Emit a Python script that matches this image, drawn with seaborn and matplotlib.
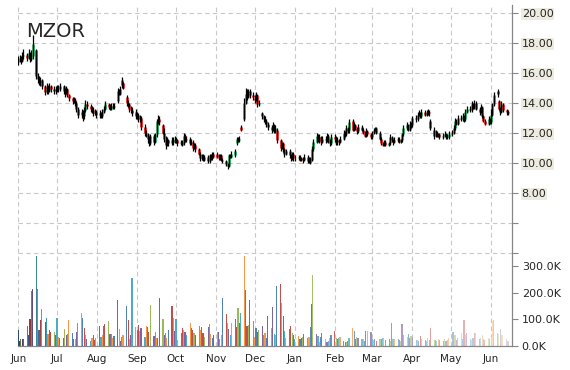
import matplotlib
matplotlib.use("Agg")
import matplotlib.pyplot as plt
import matplotlib.ticker as mticker
import matplotlib.colors as mcolors
import numpy as np
import pandas as pd
import seaborn as sns

# daily OHLC (trading days from 2015-06-01), one row per month
opens = [
    16.7, 16.9, 17.0, 16.8, 17.1, 17.2, 17.0, 17.3, 16.9, 17.1, 17.5, 15.8, 15.6, 15.3, 15.5, 15.1, 14.7, 15.0, 14.8, 15.1, 14.9, 14.8,
    14.9, 15.0, 14.9, 15.1, 14.8, 14.7, 14.9, 14.5, 14.3, 14.1, 14.2, 14.0, 13.6, 13.2, 13.4, 13.1, 13.5, 13.9, 13.8, 13.6, 13.5, 13.3, 13.4,
    13.2, 13.3, 13.1, 13.4, 13.6, 13.9, 13.7, 13.6, 13.8, 13.7, 14.1, 14.8, 14.6, 15.5, 15.3, 14.4, 14.0, 13.9, 13.6, 13.5, 13.4,
    13.1, 13.2, 12.9, 13.0, 12.4, 12.0, 11.9, 11.6, 11.3, 11.8, 11.4, 11.9, 12.8, 12.9, 12.5, 12.0, 11.6, 11.2, 11.5, 11.3, 11.5, 11.4,
    11.6, 11.5, 11.3, 11.4, 11.3, 11.8, 11.5, 11.6, 11.3, 11.4, 11.0, 11.2, 10.9, 10.6, 10.3, 10.5, 10.2, 10.4, 10.1, 10.5, 10.3, 10.6,
    10.6, 10.4, 10.3, 10.5, 10.2, 10.1, 9.9, 9.8, 10.5, 10.4, 10.5, 11.3, 11.6, 11.5, 12.4, 12.9, 14.0, 14.6, 14.4, 14.8, 14.5,
    14.3, 14.2, 14.5, 13.9, 13.3, 13.1, 12.9, 12.8, 12.6, 12.4, 12.2, 12.5, 12.1, 12.2, 11.5, 11.0, 11.3, 10.9, 10.6, 10.8, 10.5, 10.3, 10.6,
    10.3, 10.3, 10.4, 10.2, 10.3, 10.2, 10.4, 10.1, 10.3, 10.2, 10.9, 11.4, 11.8, 11.5, 11.7, 11.4, 11.6, 11.5, 11.8, 11.5, 11.3,
    11.7, 11.6, 11.4, 11.5, 11.4, 11.6, 12.0, 11.9, 12.3, 12.2, 12.8, 12.2, 12.5, 12.3, 12.1, 12.4, 12.2, 12.0, 11.8, 12.1, 11.9,
    11.7, 12.0, 12.2, 12.3, 12.0, 11.6, 11.3, 11.2, 11.4, 11.2, 11.3, 11.7, 11.5, 11.4, 11.5, 11.6, 11.4, 11.5, 11.9, 12.3, 12.5, 12.2, 12.6,
    12.5, 13.0, 12.9, 13.2, 13.3, 13.1, 13.4, 13.2, 13.3, 13.4, 12.8, 12.2, 11.8, 12.0, 11.8, 11.9, 11.7, 11.8, 11.9, 11.8, 11.7,
    11.9, 12.0, 12.3, 12.8, 12.6, 13.0, 12.9, 13.1, 12.9, 13.4, 13.6, 13.5, 13.9, 13.7, 14.0, 13.6, 13.4, 13.7, 13.1, 12.8, 12.6, 12.9,
    12.7, 13.2, 13.9, 14.8, 14.1, 13.6, 13.4, 13.9, 13.5, 13.4,
]
highs = [
    17.1, 17.2, 17.1, 17.4, 17.6, 17.3, 17.6, 17.4, 17.5, 18.5, 17.6, 16.0, 15.8, 15.7, 15.6, 15.2, 15.3, 15.2, 15.3, 15.2, 15.1, 15.1,
    15.2, 15.2, 15.3, 15.2, 15.0, 15.1, 15.0, 14.6, 14.4, 14.4, 14.3, 14.1, 13.7, 13.6, 13.5, 13.7, 14.2, 14.1, 13.9, 13.8, 13.7, 13.6, 13.5,
    13.5, 13.4, 13.6, 13.8, 14.1, 14.0, 13.9, 14.0, 14.0, 14.0, 15.0, 14.9, 15.1, 15.7, 15.4, 14.5, 14.2, 14.0, 13.8, 13.7, 13.6,
    13.4, 13.3, 13.2, 13.1, 12.6, 12.2, 12.0, 11.8, 11.9, 11.9, 12.0, 12.9, 13.2, 13.1, 12.6, 12.3, 11.8, 11.7, 11.6, 11.7, 11.7, 11.8,
    11.7, 11.6, 11.5, 11.5, 12.0, 11.9, 11.8, 11.7, 11.6, 11.5, 11.3, 11.3, 11.0, 10.7, 10.6, 10.6, 10.5, 10.5, 10.6, 10.6, 10.7, 10.7,
    10.7, 10.6, 10.6, 10.6, 10.3, 10.2, 10.0, 10.6, 10.6, 10.8, 10.9, 11.7, 11.7, 11.8, 12.5, 14.3, 15.0, 14.9, 14.9, 14.9, 14.7,
    14.5, 14.7, 14.6, 14.2, 13.4, 13.2, 13.1, 12.9, 12.7, 12.5, 12.7, 12.6, 12.5, 12.3, 11.6, 11.4, 11.4, 11.0, 10.9, 10.9, 10.6, 10.7, 10.7,
    10.5, 10.5, 10.5, 10.4, 10.4, 10.6, 10.5, 10.4, 10.4, 11.1, 11.6, 12.0, 11.9, 11.9, 11.8, 11.8, 11.8, 12.0, 11.9, 11.6, 11.9,
    11.9, 11.8, 11.7, 11.6, 11.8, 12.2, 12.1, 12.5, 12.4, 12.9, 12.9, 12.7, 12.6, 12.4, 12.6, 12.5, 12.3, 12.1, 12.3, 12.2, 12.0,
    12.1, 12.3, 12.4, 12.4, 12.1, 11.7, 11.4, 11.5, 11.5, 11.4, 11.9, 11.8, 11.6, 11.7, 11.7, 11.7, 11.6, 12.0, 12.5, 12.7, 12.6, 12.8, 12.7,
    13.1, 13.2, 13.4, 13.5, 13.4, 13.6, 13.5, 13.5, 13.6, 13.5, 12.9, 12.4, 12.2, 12.1, 12.0, 12.0, 12.0, 12.1, 12.0, 11.9, 12.1,
    12.2, 12.5, 13.0, 12.9, 13.2, 13.2, 13.3, 13.2, 13.6, 13.8, 13.8, 14.1, 14.0, 14.2, 14.1, 13.7, 13.9, 13.8, 13.2, 12.9, 13.1, 13.0,
    13.6, 14.0, 14.7, 14.9, 14.2, 13.7, 14.1, 14.0, 13.6, 13.5,
]
lows = [
    16.5, 16.7, 16.6, 16.7, 16.9, 16.8, 16.9, 16.7, 16.8, 16.9, 15.6, 15.3, 15.2, 15.1, 14.9, 14.5, 14.6, 14.6, 14.7, 14.7, 14.6, 14.6,
    14.7, 14.7, 14.8, 14.6, 14.4, 14.6, 14.4, 14.1, 13.9, 14.0, 13.8, 13.4, 13.0, 13.0, 12.8, 12.9, 13.4, 13.6, 13.4, 13.3, 13.1, 13.2, 13.0,
    13.0, 13.0, 13.0, 13.3, 13.5, 13.6, 13.5, 13.5, 13.6, 13.6, 14.0, 14.5, 14.5, 15.0, 14.9, 13.8, 13.7, 13.4, 13.3, 13.1, 12.9,
    12.9, 12.7, 12.7, 12.2, 11.8, 11.7, 11.3, 11.1, 11.2, 11.2, 11.3, 11.7, 12.6, 12.5, 11.9, 11.4, 10.9, 11.1, 11.1, 11.2, 11.2, 11.3,
    11.3, 11.1, 11.2, 11.1, 11.2, 11.4, 11.4, 11.2, 11.2, 10.8, 10.9, 10.7, 10.5, 10.1, 10.2, 10.1, 10.1, 10.0, 10.0, 10.2, 10.2, 10.3,
    10.3, 10.2, 10.2, 10.1, 10.0, 9.8, 9.6, 9.7, 10.3, 10.3, 10.4, 11.2, 11.4, 11.4, 12.1, 12.8, 13.9, 14.2, 14.3, 14.3, 14.2,
    14.0, 14.1, 13.7, 13.8, 12.9, 12.7, 12.6, 12.4, 12.2, 12.0, 12.1, 12.0, 12.0, 11.3, 10.8, 10.9, 10.7, 10.4, 10.5, 10.3, 10.1, 10.2, 10.1,
    10.1, 10.2, 10.1, 10.1, 10.0, 10.1, 10.0, 10.0, 9.9, 10.1, 10.8, 11.3, 11.4, 11.3, 11.2, 11.3, 11.3, 11.4, 11.3, 11.1, 11.2,
    11.4, 11.2, 11.2, 11.2, 11.3, 11.5, 11.7, 11.8, 12.0, 12.0, 12.1, 12.1, 12.2, 11.9, 12.0, 12.1, 11.9, 11.7, 11.7, 11.8, 11.6,
    11.6, 11.9, 12.1, 11.9, 11.5, 11.2, 11.1, 11.1, 11.1, 11.1, 11.2, 11.4, 11.2, 11.3, 11.4, 11.3, 11.3, 11.4, 11.8, 12.2, 12.1, 12.1, 12.3,
    12.4, 12.7, 12.8, 13.1, 13.0, 13.0, 13.1, 13.1, 13.2, 13.1, 12.2, 11.6, 11.7, 11.7, 11.7, 11.6, 11.6, 11.7, 11.6, 11.6, 11.6,
    11.8, 11.9, 12.2, 12.5, 12.5, 12.8, 12.8, 12.7, 12.8, 13.3, 13.4, 13.4, 13.6, 13.6, 13.5, 13.2, 13.3, 13.0, 12.7, 12.5, 12.5, 12.6,
    12.6, 13.1, 13.8, 14.4, 13.5, 13.2, 13.3, 13.4, 13.2, 13.2,
]
closes = [
    16.9, 17.0, 16.8, 17.1, 17.2, 17.0, 17.3, 16.9, 17.2, 17.9, 15.8, 15.6, 15.4, 15.5, 15.1, 14.7, 15.0, 14.8, 15.1, 14.9, 14.8, 14.9,
    15.0, 14.9, 15.1, 14.8, 14.7, 14.9, 14.5, 14.3, 14.1, 14.2, 14.0, 13.6, 13.2, 13.4, 13.0, 13.5, 13.9, 13.8, 13.6, 13.5, 13.3, 13.4, 13.2,
    13.3, 13.1, 13.4, 13.6, 13.9, 13.7, 13.6, 13.8, 13.7, 13.8, 14.8, 14.6, 14.9, 15.2, 15.0, 14.0, 13.9, 13.6, 13.5, 13.3, 13.1,
    13.2, 12.9, 13.0, 12.4, 12.0, 11.9, 11.6, 11.3, 11.8, 11.4, 11.9, 12.8, 12.9, 12.7, 12.0, 11.6, 11.2, 11.5, 11.3, 11.5, 11.4, 11.6,
    11.5, 11.3, 11.4, 11.2, 11.8, 11.5, 11.6, 11.3, 11.4, 11.0, 11.2, 10.9, 10.6, 10.3, 10.5, 10.2, 10.4, 10.1, 10.5, 10.3, 10.6, 10.4,
    10.4, 10.3, 10.5, 10.2, 10.1, 9.9, 9.8, 10.5, 10.4, 10.6, 10.8, 11.6, 11.5, 11.6, 12.2, 14.0, 14.6, 14.4, 14.8, 14.5, 14.4,
    14.2, 14.5, 13.9, 14.0, 13.1, 12.9, 12.8, 12.6, 12.4, 12.2, 12.5, 12.1, 12.3, 11.5, 11.0, 11.3, 10.9, 10.6, 10.8, 10.5, 10.3, 10.6, 10.3,
    10.3, 10.4, 10.2, 10.3, 10.2, 10.4, 10.1, 10.3, 10.0, 10.9, 11.4, 11.8, 11.5, 11.7, 11.4, 11.6, 11.5, 11.8, 11.5, 11.3, 11.7,
    11.6, 11.4, 11.5, 11.4, 11.6, 12.0, 11.9, 12.3, 12.1, 12.7, 12.2, 12.5, 12.3, 12.1, 12.4, 12.2, 12.0, 11.8, 12.1, 11.9, 11.7,
    12.0, 12.2, 12.3, 12.0, 11.6, 11.3, 11.2, 11.4, 11.2, 11.3, 11.7, 11.5, 11.4, 11.5, 11.6, 11.4, 11.5, 11.9, 12.3, 12.5, 12.2, 12.6, 12.4,
    13.0, 12.9, 13.2, 13.3, 13.1, 13.4, 13.2, 13.3, 13.4, 13.3, 12.3, 11.8, 12.0, 11.8, 11.9, 11.7, 11.8, 11.9, 11.8, 11.7, 11.9,
    12.0, 12.3, 12.8, 12.6, 13.0, 12.9, 13.1, 12.8, 13.4, 13.6, 13.5, 13.9, 13.7, 14.0, 13.6, 13.4, 13.7, 13.1, 12.8, 12.6, 12.9, 12.7,
    13.2, 13.9, 14.5, 14.6, 13.6, 13.4, 13.9, 13.5, 13.4, 13.3,
]
# volume in thousands of shares
volume_k = [
    60, 20, 28, 28, 25, 75, 40, 100, 205, 215, 338, 212, 60, 98, 139, 91, 104, 45, 60, 54, 54, 40,
    104, 35, 30, 30, 62, 40, 45, 98, 47, 25, 25, 54, 85, 123, 104, 66, 40, 25, 20, 30, 40, 22, 30,
    75, 35, 40, 76, 82, 94, 45, 45, 30, 38, 172, 62, 20, 35, 40, 150, 98, 28, 40, 256, 70,
    60, 79, 57, 66, 35, 75, 70, 54, 154, 38, 54, 30, 30, 179, 100, 42, 47, 30, 60, 151, 104, 57,
    100, 22, 47, 66, 60, 54, 42, 85, 66, 60, 47, 40, 75, 60, 70, 47, 35, 70, 82, 45, 30, 40,
    54, 54, 26, 40, 179, 120, 88, 62, 40, 85, 100, 72, 142, 85, 125, 338, 210, 75, 79, 172, 95,
    35, 66, 54, 60, 75, 40, 47, 30, 113, 66, 148, 45, 40, 225, 231, 162, 113, 57, 30, 62, 75, 47, 42,
    25, 38, 25, 30, 32, 45, 30, 35, 70, 157, 266, 44, 38, 15, 35, 47, 25, 15, 20, 30, 42,
    57, 30, 25, 30, 35, 20, 15, 15, 20, 30, 66, 57, 25, 32, 30, 25, 25, 20, 57, 57, 54,
    25, 22, 25, 20, 25, 28, 30, 30, 22, 25, 20, 85, 28, 28, 25, 22, 20, 82, 40, 35, 45, 30, 38,
    35, 22, 22, 20, 38, 25, 22, 20, 30, 22, 66, 22, 22, 20, 25, 22, 18, 25, 20, 22, 30,
    54, 54, 40, 22, 30, 47, 25, 98, 40, 47, 25, 22, 30, 50, 50, 25, 30, 40, 25, 22, 30, 25,
    35, 92, 98, 50, 45, 62, 40, 42, 25, 20,
]
month_labels = ["Jun", "Jul", "Aug", "Sep", "Oct", "Nov", "Dec", "Jan", "Feb", "Mar", "Apr", "May", "Jun"]
price_ticks = [4, 6, 8, 10, 12, 14, 16, 18, 20]
volume_ticks = [0, 100, 200, 300]
ticker = "MZOR"

dates = pd.bdate_range("2015-06-01", periods=len(closes))
df = pd.DataFrame({"date": dates, "open": opens, "high": highs, "low": lows,
                   "close": closes, "volume": np.array(volume_k) * 1000})
month_starts = pd.date_range("2015-06-01", periods=len(month_labels), freq="MS")

sns.set_style("white")
plt.rcParams["font.family"] = ["DejaVu Sans"]

fig = plt.figure(figsize=(5.7, 3.7), dpi=100)
axv = fig.add_axes([18 / 570, 24 / 370, 494 / 570, 341 / 370])
axp = axv.twinx()

grid_kw = dict(linestyle=(0, (4, 3)), color="#C8C8C8", linewidth=0.8)

# volume bars: office palette, darker at start, fading out in 2016
accents = ["#4F81BD", "#C0504D", "#9BBB59", "#8064A2", "#4BACC6", "#F79646"]
n = len(df)
shade = np.interp(np.arange(n), [0, 22, 150, n - 1], [-0.4, 0, 0, 0.7])
bar_cols = []
for i in range(n):
    c = np.array(mcolors.to_rgb(accents[i % len(accents)]))
    s = shade[i]
    c = c * (1 + s) if s < 0 else c + (1 - c) * s
    bar_cols.append(c)
axv.bar(df["date"], df["volume"], width=0.9, color=bar_cols, linewidth=0, zorder=2)
axv.set_ylim(0, 1.279e6)
axv.yaxis.tick_right()
axv.set_yticks([v * 1000 for v in volume_ticks])
axv.yaxis.set_major_formatter(mticker.FuncFormatter(lambda v, p: f"{v / 1000:.1f}K"))

x0 = pd.Timestamp("2015-06-01") - pd.Timedelta(hours=6)
axv.set_xlim(x0, x0 + pd.Timedelta(days=382.4))
axv.set_xticks(month_starts)
axv.set_xticklabels(month_labels)
axv.grid(True, axis="x", **grid_kw)
axv.set_axisbelow(True)

# candles
up = df["close"] >= df["open"]
body_cols = np.where(up, "#00B050", "#FF0000")
axp.vlines(df["date"], df["open"], df["close"], colors=body_cols, linewidth=1.8, zorder=3)
axp.vlines(df["date"], df["low"], df["high"], colors="black", linewidth=0.9, zorder=4)
axp.set_ylim(-2.2, 20.53)
axp.set_yticks(price_ticks)
axp.set_yticklabels([f"{v:.2f}" if v >= 8 else "" for v in price_ticks])
for lbl in axp.get_yticklabels():
    if lbl.get_text():
        lbl.set_bbox(dict(facecolor="#EEECE1", edgecolor="none", pad=0.8))
axp.grid(True, axis="y", **grid_kw)
axp.grid(False, axis="x")

for ax in (axv, axp):
    ax.spines["top"].set_visible(False)
    ax.spines["left"].set_visible(False)
    ax.spines["right"].set_color("#868686")
    ax.spines["bottom"].set_color("#868686")
    ax.tick_params(axis="both", which="major", direction="out", length=4,
                   width=0.8, color="#868686", labelsize=8, pad=3)
axv.tick_params(axis="x", labelsize=7.5, pad=2)
axv.tick_params(axis="y", left=False, labelleft=False, right=True, labelright=True)

fig.text(26 / 570, 1 - 37 / 370, ticker, fontsize=14, va="baseline", ha="left")

fig.savefig("out.png", dpi=100)
